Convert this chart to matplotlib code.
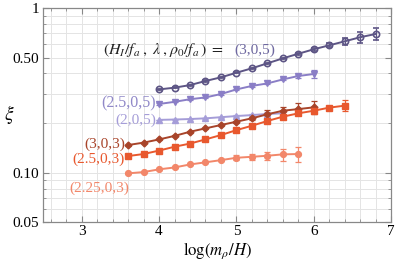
import numpy as np
import matplotlib
matplotlib.use("Agg")
import matplotlib.pyplot as plt
from matplotlib.ticker import FixedLocator, MultipleLocator, NullFormatter

plt.rcParams['font.family'] = ['Liberation Serif', 'DejaVu Serif']
plt.rcParams['mathtext.fontset'] = 'stix'

# ---- data ----
x_305 = [4.0, 4.2, 4.4, 4.6, 4.8, 5.0, 5.2, 5.4, 5.6, 5.8, 6.0, 6.2, 6.4, 6.6, 6.8]
y_305 = [0.320, 0.328, 0.340, 0.360, 0.379, 0.404, 0.430, 0.461, 0.494, 0.527, 0.561, 0.593, 0.627, 0.664, 0.695]
e_305 = [0.002, 0.002, 0.002, 0.003, 0.003, 0.004, 0.004, 0.005, 0.006, 0.008, 0.010, 0.017, 0.028, 0.050, 0.058]

x_2505 = [4.0, 4.2, 4.4, 4.6, 4.8, 5.0, 5.2, 5.4, 5.6, 5.8, 6.0]
y_2505 = [0.261, 0.269, 0.279, 0.286, 0.300, 0.320, 0.336, 0.348, 0.368, 0.386, 0.397]
e_2505 = [0.002, 0.002, 0.002, 0.002, 0.003, 0.003, 0.003, 0.004, 0.005, 0.008, 0.020]

x_205 = [4.0, 4.2, 4.4, 4.6, 4.8, 5.0, 5.2, 5.4, 5.6]
y_205 = [0.209, 0.210, 0.2115, 0.2135, 0.217, 0.2205, 0.2235, 0.227, 0.229]
e_205 = [0.001, 0.001, 0.001, 0.002, 0.002, 0.003, 0.004, 0.006, 0.006]

x_303 = [3.6, 3.8, 4.0, 4.2, 4.4, 4.6, 4.8, 5.0, 5.2, 5.4, 5.6, 5.8, 6.0]
y_303 = [0.147, 0.152, 0.159, 0.167, 0.177, 0.1856, 0.1945, 0.2037, 0.2136, 0.226, 0.2375, 0.243, 0.249]
e_303 = [0.001, 0.001, 0.001, 0.001, 0.002, 0.002, 0.002, 0.003, 0.005, 0.015, 0.014, 0.020, 0.023]

x_2503 = [3.6, 3.8, 4.0, 4.2, 4.4, 4.6, 4.8, 5.0, 5.2, 5.4, 5.6, 5.8, 6.0, 6.2, 6.4]
y_2503 = [0.126, 0.1296, 0.136, 0.1435, 0.150, 0.159, 0.169, 0.181, 0.1925, 0.2057, 0.2185, 0.229, 0.2375, 0.248, 0.255]
e_2503 = [0.001, 0.001, 0.001, 0.001, 0.001, 0.001, 0.002, 0.002, 0.002, 0.003, 0.003, 0.004, 0.006, 0.004, 0.020]

x_22503 = [3.6, 3.8, 4.0, 4.2, 4.4, 4.6, 4.8, 5.0, 5.2, 5.4, 5.6, 5.8]
y_22503 = [0.0989, 0.1007, 0.1046, 0.1074, 0.112, 0.1154, 0.119, 0.123, 0.1247, 0.1265, 0.129, 0.1296]
e_22503 = [0.0005, 0.0005, 0.0006, 0.0007, 0.0008, 0.001, 0.002, 0.004, 0.005, 0.007, 0.011, 0.013]

labels = ["(3,0,5)", "(2.5,0,5)", "(2,0,5)", "(3,0,3)", "(2.5,0,3)", "(2.25,0,3)"]
colors = ["#5d5585", "#8a7ec6", "#a59dd8", "#a8442a", "#e8582e", "#f2876a"]
label_colors = ["#6e68a0", "#9088c8", "#a59dd8", "#a8442a", "#e8582e", "#f2876a"]

fig = plt.figure(figsize=(3.95, 2.66), dpi=100)
ax = fig.add_axes([0.109, 0.165, 0.881, 0.805])

ax.set_xlim(2.5, 7.0)
ax.set_yscale('log')
ax.set_ylim(0.05, 1.0)

# grid
ax.xaxis.set_minor_locator(MultipleLocator(0.2))
ax.xaxis.set_major_locator(FixedLocator([3, 4, 5, 6, 7]))
ax.yaxis.set_major_locator(FixedLocator([0.05, 0.1, 0.5, 1.0]))
minor_y = [0.06, 0.07, 0.08, 0.09, 0.2, 0.3, 0.4, 0.6, 0.7, 0.8, 0.9]
ax.yaxis.set_minor_locator(FixedLocator(minor_y))
ax.yaxis.set_minor_formatter(NullFormatter())
ax.set_yticklabels(["0.05", "0.10", "0.50", "1"])
ax.set_xticklabels(["3", "4", "5", "6", "7"])
ax.grid(True, which='both', color='#e4e4e4', linewidth=0.7)
ax.set_axisbelow(True)

for s in ax.spines.values():
    s.set_color('#888888')
    s.set_linewidth(0.9)
ax.tick_params(which='both', direction='in', top=True, right=True, color='#888888',
               labelsize=11)
ax.tick_params(axis='x', which='both', pad=2)
ax.tick_params(axis='y', which='both', pad=3)
ax.tick_params(which='major', length=4)
ax.tick_params(which='minor', length=2)

series = [
    (x_305, y_305, e_305, 'o', dict(mfc='none', mew=1.2, ms=4.5)),
    (x_2505, y_2505, e_2505, 'v', dict(ms=4.5)),
    (x_205, y_205, e_205, '^', dict(ms=4.5)),
    (x_303, y_303, e_303, 'D', dict(ms=3.5)),
    (x_2503, y_2503, e_2503, 's', dict(ms=4.2)),
    (x_22503, y_22503, e_22503, 'o', dict(ms=4.2)),
]
for (xs, ys, es, m, kw), c in zip(series, colors):
    ax.errorbar(xs, ys, yerr=es, color=c, marker=m, lw=1.4, elinewidth=0.9,
                capsize=2.5, capthick=0.9, **kw)

# labels
ax.text(3.27, 0.555, r"$(H_I/f_a\;,\;\lambda\;,\rho_0/f_a\,)\;=\;$", fontsize=11.5,
        color='#222222', ha='left', va='center')
ax.text(4.98, 0.555, labels[0], fontsize=11, color=label_colors[0], ha='left', va='center')
ax.text(3.96, 0.262, labels[1], fontsize=11.5, color=label_colors[1], ha='right', va='center')
ax.text(3.96, 0.209, labels[2], fontsize=11, color=label_colors[2], ha='right', va='center')
ax.text(3.56, 0.148, labels[3], fontsize=11, color=label_colors[3], ha='right', va='center')
ax.text(3.55, 0.120, labels[4], fontsize=11, color=label_colors[4], ha='right', va='center')
ax.text(3.62, 0.080, labels[5], fontsize=11, color=label_colors[5], ha='right', va='center')

ax.set_xlabel(r"$\log(m_\rho/H)$", fontsize=12, labelpad=2)
ax.set_ylabel(r"$\xi$", fontsize=14, rotation=0)
ax.yaxis.set_label_coords(-0.098, 0.45)

fig.savefig("out.png", dpi=100)
